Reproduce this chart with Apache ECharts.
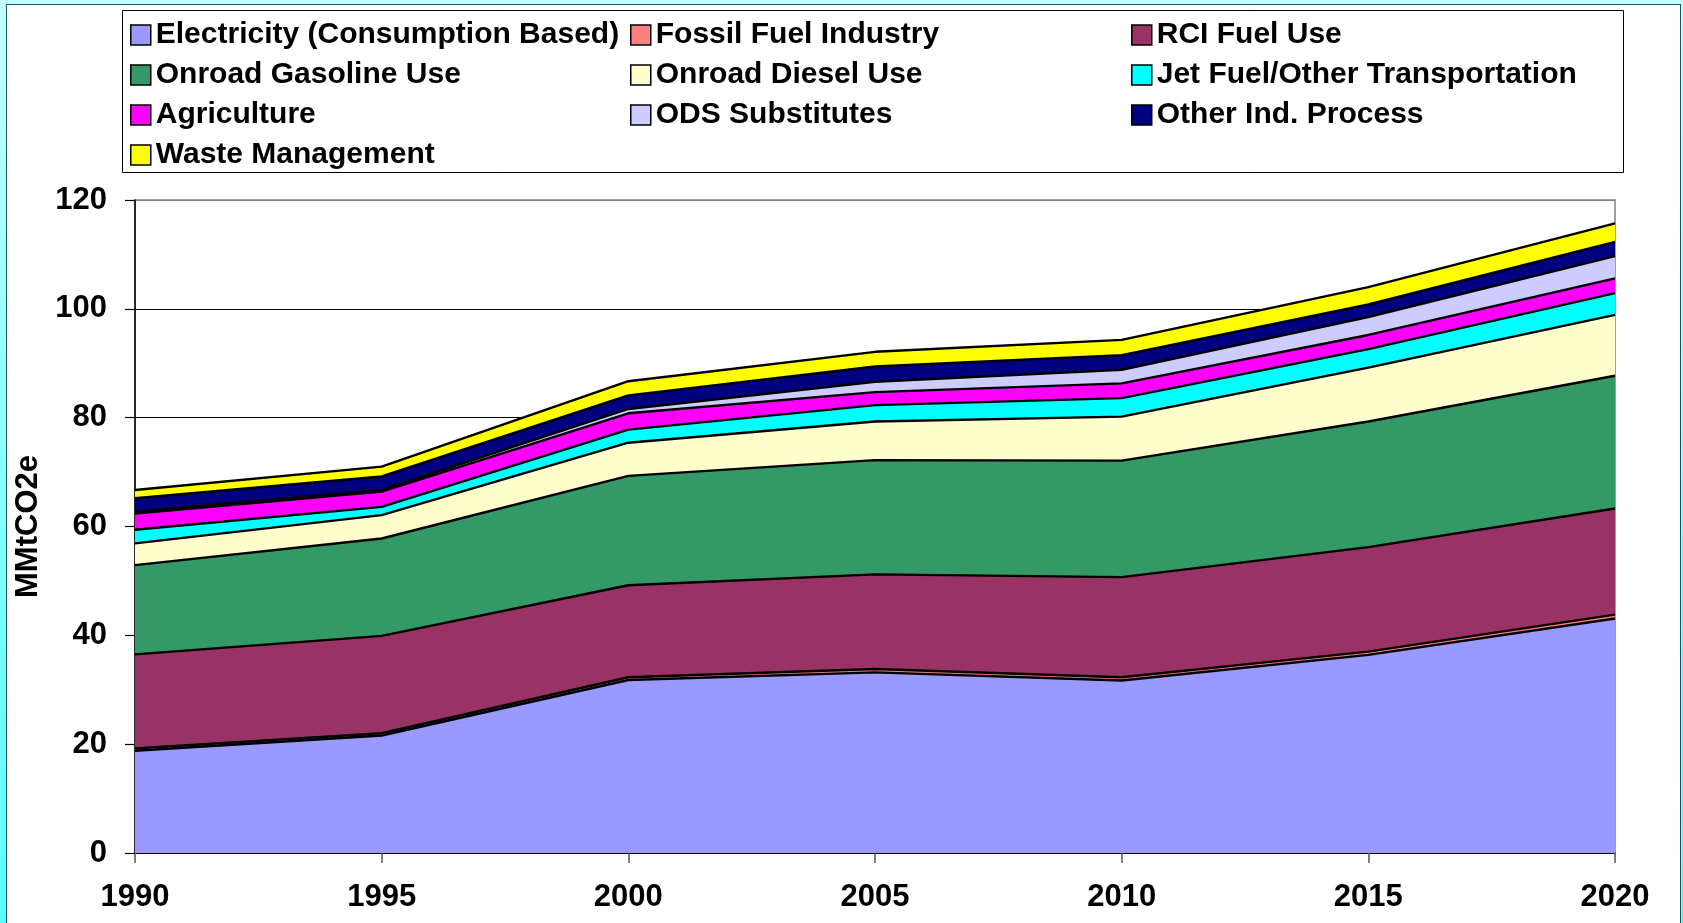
<!DOCTYPE html>
<html>
<head>
<meta charset="utf-8">
<script src="https://cdn.jsdelivr.net/npm/echarts@6/dist/echarts.min.js"></script>
<style>
  html, body { margin: 0; padding: 0; width: 1683px; height: 923px; overflow: hidden;
    background: linear-gradient(to bottom, #c4ffff 0%, #8affff 50%, #55ffff 100%); }
  #frame { position: absolute; left: 6px; top: 4px; width: 1673px; height: 940px;
    background: #ffffff; border: 1px solid #1d5555; }
  #chart { position: absolute; left: 0; top: 0; width: 1683px; height: 923px; }
</style>
</head>
<body>
<div id="frame"></div>
<div id="chart"></div>
<script>
const years = ['1990', '1995', '2000', '2005', '2010', '2015', '2020'];
const yTicks = [0, 20, 40, 60, 80, 100, 120];

const electricity = [18.8, 21.6, 31.8, 33.2, 31.7, 36.4, 43.1];
const fossilFuel  = [0.4, 0.4, 0.5, 0.6, 0.6, 0.6, 0.7];
const rciFuel     = [17.3, 17.9, 16.9, 17.4, 18.4, 19.2, 19.5];
const gasoline    = [16.4, 17.9, 20.1, 21.0, 21.4, 23.1, 24.4];
const diesel      = [4.0, 4.3, 6.1, 7.1, 8.1, 9.9, 11.2];
const jetFuel     = [2.5, 1.5, 2.4, 3.0, 3.4, 3.4, 4.0];
const agriculture = [3.0, 2.8, 3.0, 2.4, 2.7, 2.6, 2.7];
const odsSubst    = [0.3, 0.3, 0.8, 1.9, 2.5, 3.3, 4.1];
const otherInd    = [2.5, 2.5, 2.5, 2.8, 2.7, 2.3, 2.6];
const waste       = [1.5, 1.8, 2.6, 2.7, 2.8, 3.2, 3.4];

const seriesDefs = [
  { name: 'Electricity (Consumption Based)', data: electricity, color: '#9999ff' },
  { name: 'Fossil Fuel Industry', data: fossilFuel, color: '#ff8080' },
  { name: 'RCI Fuel Use', data: rciFuel, color: '#993366' },
  { name: 'Onroad Gasoline Use', data: gasoline, color: '#339966' },
  { name: 'Onroad Diesel Use', data: diesel, color: '#ffffcc' },
  { name: 'Jet Fuel/Other Transportation', data: jetFuel, color: '#00ffff' },
  { name: 'Agriculture', data: agriculture, color: '#ff00ff' },
  { name: 'ODS Substitutes', data: odsSubst, color: '#ccccff' },
  { name: 'Other Ind. Process', data: otherInd, color: '#000080' },
  { name: 'Waste Management', data: waste, color: '#ffff00' }
];

const legendCols = [
  { left: 130, names: ['Electricity (Consumption Based)', 'Onroad Gasoline Use', 'Agriculture', 'Waste Management'] },
  { left: 630, names: ['Fossil Fuel Industry', 'Onroad Diesel Use', 'ODS Substitutes'] },
  { left: 1131, names: ['RCI Fuel Use', 'Jet Fuel/Other Transportation', 'Other Ind. Process'] }
];

const chart = echarts.init(document.getElementById('chart'), null, { renderer: 'canvas' });

const legendFont = { fontFamily: 'Liberation Sans', fontWeight: 'bold', fontSize: 30, color: '#000', lineHeight: 28 };

const option = {
  backgroundColor: 'transparent',
  animation: false,
  graphic: [{
    type: 'rect', left: 122, top: 10, z: 0,
    shape: { width: 1501, height: 162 },
    style: { fill: '#ffffff', stroke: '#000000', lineWidth: 1 }
  }],
  legend: legendCols.map(c => ({
    data: c.names,
    orient: 'vertical',
    left: c.left,
    top: 20,
    itemGap: 10,
    itemWidth: 20,
    itemHeight: 20,
    icon: 'rect',
    selectedMode: false,
    padding: 0,
    z: 5,
    itemStyle: { borderColor: '#000', borderWidth: 1.5 },
    textStyle: legendFont
  })),
  grid: {
    left: 135, right: 68, top: 200, bottom: 70,
    show: true, borderColor: '#808080', borderWidth: 1.5, backgroundColor: 'transparent'
  },
  xAxis: {
    type: 'category',
    data: years,
    boundaryGap: false,
    axisLine: { lineStyle: { color: '#000', width: 1.5 } },
    axisTick: { show: true, length: 10, lineStyle: { color: '#555', width: 1.5 } },
    axisLabel: { margin: 29, fontFamily: 'Liberation Sans', fontWeight: 'bold', fontSize: 31, color: '#000' },
    splitLine: { show: false }
  },
  yAxis: {
    type: 'value',
    min: yTicks[0], max: yTicks[yTicks.length - 1], interval: 20,
    name: 'MMtCO2e',
    nameLocation: 'middle',
    nameGap: 74,
    nameTextStyle: { fontFamily: 'Liberation Sans', fontWeight: 'bold', fontSize: 31, color: '#000' },
    axisLine: { show: true, lineStyle: { color: '#000', width: 1.5 } },
    axisTick: { show: true, length: 10, lineStyle: { color: '#000', width: 1.2 } },
    axisLabel: { margin: 28, fontFamily: 'Liberation Sans', fontWeight: 'bold', fontSize: 31, color: '#000' },
    splitLine: { show: true, lineStyle: { color: ['#000', '#000', '#000', '#000', '#000', '#000', '#808080'], width: 1 } }
  },
  series: seriesDefs.map(s => ({
    name: s.name,
    type: 'line',
    stack: 'total',
    data: s.data,
    color: s.color,
    symbol: 'none',
    showSymbol: false,
    lineStyle: { color: '#000', width: 2.4 },
    itemStyle: { color: s.color },
    areaStyle: { color: s.color, opacity: 1 },
    emphasis: { disabled: true },
    z: 3
  }))
};

chart.setOption(option);
</script>
</body>
</html>
